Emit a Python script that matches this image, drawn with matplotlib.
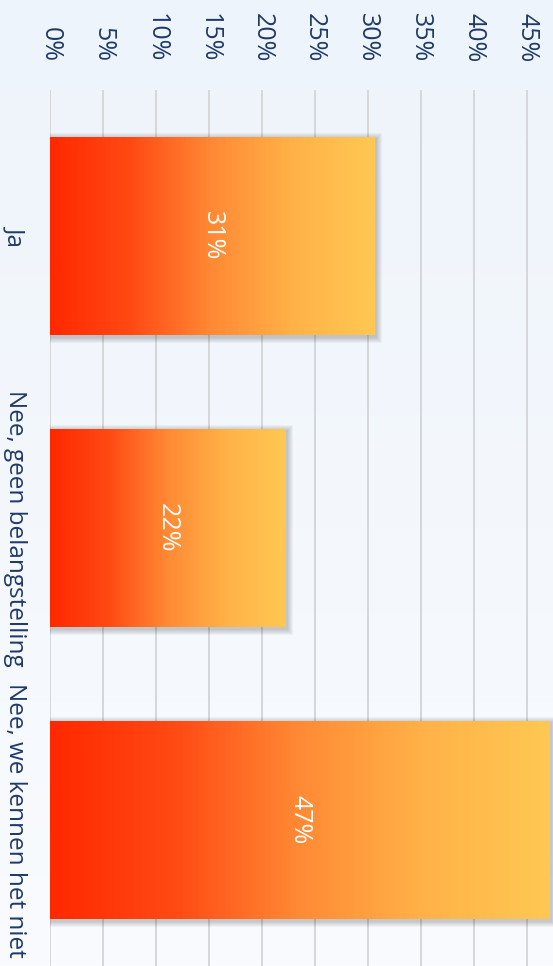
import numpy as np
import matplotlib
matplotlib.use("Agg")
import matplotlib.pyplot as plt
from matplotlib.colors import LinearSegmentedColormap
from matplotlib.patches import Rectangle

categories = ["Ja", "Nee, geen belangstelling", "Nee, we kennen het niet"]
values = [30.6, 22.2, 47.2]
tick_values = [0, 5, 10, 15, 20, 25, 30, 35, 40, 45]
tick_labels = [f"{v}%" for v in tick_values]

plt.rcParams['font.family'] = ['Open Sans', 'DejaVu Sans']
W, H = 553, 966
fig = plt.figure(figsize=(W / 100, H / 100), dpi=100)

# background gradient
bg = fig.add_axes([0, 0, 1, 1], zorder=-10)
grad_bg = np.linspace(0, 1, 256).reshape(-1, 1)
bg_cmap = LinearSegmentedColormap.from_list("bg", ["#EEF4FB", "#F9FBFE"])
bg.imshow(grad_bg, aspect='auto', cmap=bg_cmap, extent=(0, 1, 1, 0))
bg.set_axis_off()

ax = fig.add_axes([50 / W, 0, 1 - 50 / W, 1 - 90 / H])
ax.patch.set_alpha(0)

text_color = "#1F3A68"
ax.set_xticks(tick_values)
ax.set_xticklabels(tick_labels, rotation=270, fontsize=18, color=text_color)
ax.xaxis.tick_top()
ax.tick_params(axis='x', length=0, pad=20)
for lbl in ax.get_xticklabels():
    lbl.set_va('bottom')
    lbl.set_ha('center')

ypos = np.arange(len(categories))
ax.set_yticks(ypos)
ax.set_yticklabels(categories, rotation=270, fontsize=17.5, color=text_color)
ax.tick_params(axis='y', length=0, pad=16.5)
for lbl in ax.get_yticklabels():
    lbl.set_va('center')
    lbl.set_ha('right')

for s in ax.spines.values():
    s.set_visible(False)
ax.grid(axis='x', color='#D5D7DA', linewidth=1.4, zorder=0)
ax.set_axisbelow(True)

cmap = LinearSegmentedColormap.from_list(
    "bar", ["#FF2800", "#FF4A14", "#FF8A35", "#FFB248", "#FFC852"])
bar_h = 0.68
bars = ax.barh(ypos, values, height=bar_h, color='none', zorder=3)
px_x = 47.5 / (W - 50)
px_y = 3.0 / (H - 90)
grad = np.linspace(0, 1, 256).reshape(1, -1)
for rect, v in zip(bars, values):
    x0, y0 = rect.get_x(), rect.get_y()
    w, h = rect.get_width(), rect.get_height()
    # soft shadow
    for k in range(1, 7):
        ax.add_patch(Rectangle((x0 - k * px_x + 1.5 * px_x, y0 - k * px_y + 2 * px_y),
                               w + 2 * k * px_x, h + 2 * k * px_y,
                               facecolor='#000000', alpha=0.035, edgecolor='none',
                               zorder=2))
    im = ax.imshow(grad, aspect='auto', cmap=cmap,
                   extent=(x0, x0 + w, y0 + h, y0), zorder=3, clip_on=True)
    im.set_clip_path(rect)
    ax.text(x0 + w / 2, y0 + h / 2, f"{round(v)}%", rotation=270, ha='center',
            va='center', color='white', fontsize=18, zorder=4)

ax.set_xlim(0, 47.5)
ax.set_ylim(2.5, -0.5)
fig.savefig("out.png", dpi=100)
